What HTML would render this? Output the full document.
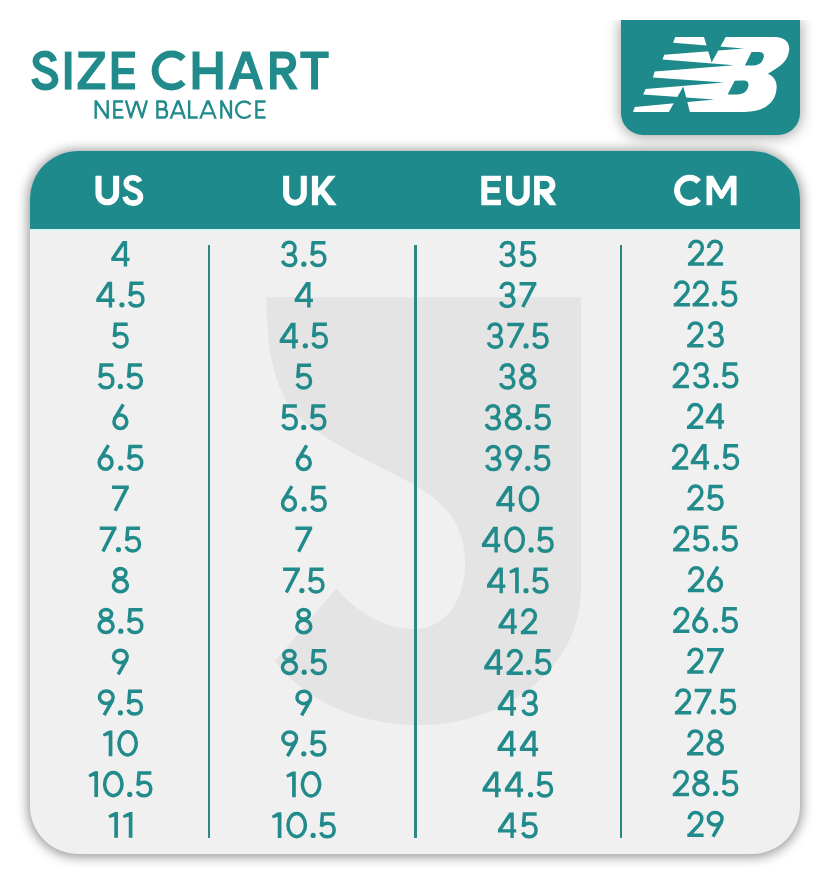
<!DOCTYPE html>
<html><head><meta charset="utf-8">
<style>
html,body{margin:0;padding:0;}
body{width:831px;height:885px;background:#ffffff;position:relative;overflow:hidden;font-family:"Liberation Sans",sans-serif;}
.abs{position:absolute;}
#logo{position:absolute;left:621px;top:20px;width:179px;height:115px;background:#1f8a8b;border-radius:0 0 22px 22px;box-shadow:0 1px 14px 1px rgba(0,0,0,0.36);clip-path:inset(0 -40px -40px -40px);}
#card{position:absolute;left:29.5px;top:151px;width:770.5px;height:702.5px;border-radius:48px;background:#f0f0f0;box-shadow:0 1px 12px 2px rgba(0,0,0,0.42);overflow:hidden;}
#head{position:absolute;left:0;top:0;width:100%;height:77.5px;background:#1f8a8b;}
#hl{position:absolute;left:0;top:77.5px;width:100%;height:2px;background:#dcf3f3;}
.tx{position:absolute;color:transparent;white-space:nowrap;transform-origin:0 0;}
.tc{width:140px;text-align:center;transform-origin:50% 0;}
.v{position:absolute;top:244.5px;width:2.2px;height:593.5px;background:#2b8686;}
</style></head><body>
<svg class="abs" style="left:0;top:0" width="400" height="100" viewBox="0 0 400 100">
<g fill="none" stroke="#218a8b" stroke-linecap="butt">
<path stroke-width="6.7" d="M53.9,61.2 C52.4,56.6 49.2,53.9 44.8,53.9 C39.6,53.9 35.9,57.0 35.9,61.3 C35.9,66.3 40.0,68.3 45.6,70.0 C51.4,71.8 55.1,74.5 55.1,79.6 C55.1,84.2 51.0,87.1 45.4,87.1 C40.2,87.1 36.0,84.6 34.4,78.7"/>
<path stroke-width="6.9" d="M183.27,58.83 A16.5,16.5 0 1 0 183.27,82.17"/>
</g>
<g fill="#218a8b">
<rect x="64.8" y="51.6" width="6.7" height="38.0"/>
<path d="M78.3,51.6 L104.9,51.6 L104.9,57.8 L85.9,83.2 L105.2,83.2 L105.2,89.6 L77.6,89.6 L77.6,83.2 L97.2,57.8 L78.3,57.8 Z"/>
<path d="M111.7,51.6 L135.1,51.6 L135.1,57.8 L118.3,57.8 L118.3,67.9 L133.8,67.9 L133.8,74.2 L118.3,74.2 L118.3,83.2 L135.1,83.2 L135.1,89.6 L111.7,89.6 Z"/>
<path d="M192.6,51.6 L199.5,51.6 L199.5,67.3 L215.8,67.3 L215.8,51.6 L222.7,51.6 L222.7,89.6 L215.8,89.6 L215.8,74.2 L199.5,74.2 L199.5,89.6 L192.6,89.6 Z"/>
<path fill-rule="evenodd" d="M228.2,89.6 L242.3,51.6 L250.1,51.6 L263.2,89.6 L255.8,89.6 L252.5,79.0 L239.4,79.0 L236.1,89.6 Z M245.9,60.3 L251.0,73.2 L240.9,73.2 Z"/>
<path fill-rule="evenodd" d="M270.0,51.6 L284.5,51.6 C291.4,51.6 296.1,56.1 296.1,62.7 C296.1,68.4 292.8,72.6 288.3,73.9 L298.0,89.6 L289.8,89.6 L281.0,74.8 L276.6,74.8 L276.6,89.6 L270.0,89.6 Z M276.6,58.5 L284.2,58.5 C287.5,58.5 289.4,60.4 289.4,63.1 C289.4,65.8 287.5,67.8 284.2,67.8 L276.6,67.8 Z"/>
<path d="M300.3,51.6 L328.7,51.6 L328.7,58.0 L318.0,58.0 L318.0,89.6 L311.1,89.6 L311.1,58.0 L300.3,58.0 Z"/>
</g>
</svg>
<svg class="abs" style="left:0;top:0" width="400" height="130" viewBox="0 0 400 130">
<g fill="none" stroke="#218a8b" stroke-width="2.4" stroke-linecap="butt" stroke-linejoin="miter">
<path d="M95.7,100.3 V118.7 M95.9,101.0 L107.5,118.0 M107.7,100.3 V118.7"/>
<path d="M123.2,101.5 H114.35 V117.5 H123.6 M114.35,109.9 H122.5"/>
<path d="M125.9,100.4 L131.0,118.2 M130.6,118.2 L136.2,101.0 M136.6,101.0 L142.2,118.2 M141.8,118.2 L146.9,100.4"/>
<path d="M157.4,100.3 V118.7 M156.2,101.5 H162.3 C164.8,101.5 166.0,103.1 166.0,105.3 C166.0,107.5 164.6,109.2 162.3,109.2 H157.4 M157.4,109.2 H163.0 C165.7,109.2 167.0,111.1 167.0,113.4 C167.0,115.9 165.5,117.5 163.0,117.5 H156.2"/>
<path d="M189.15,100.3 V118.7 M187.9,117.5 H197.7"/>
<path d="M221.35,100.3 V118.7 M221.55,101.0 L230.75,118.0 M230.95,100.3 V118.7"/>
<path d="M250.58,104.43 A8.2,8.2 0 1 0 250.58,114.97"/>
<path d="M265.6,101.5 H256.4 V117.5 H265.6 M256.4,109.9 H264.2"/>
</g>
<g fill="#218a8b">
<path fill-rule="evenodd" d="M169.5,118.7 L176.7,100.3 L179.6,100.3 L186.1,118.7 L183.5,118.7 L182.1,114.6 L173.6,114.6 L172.1,118.7 Z M178.1,103.8 L174.4,112.2 L181.4,112.2 Z"/>
<path fill-rule="evenodd" d="M199.1,118.7 L206.55,100.3 L209.45,100.3 L216.9,118.7 L214.3,118.7 L212.9,114.6 L203.1,114.6 L201.7,118.7 Z M208.0,103.8 L203.9,112.2 L212.1,112.2 Z"/>
</g>
</svg>
<div id="logo"></div>
<svg class="abs" style="left:0;top:0" width="831" height="150" viewBox="0 0 831 150">
<path fill="#ffffff" d="M633,111.9 L634.8,107 L714.4,99.4 L643.2,94.4 L645.6,89 L724.1,82.4 L652.9,77.5 L654.7,71.5 L734.2,65.3 L662.5,59.5 L664.3,54.7 L744,48.4 L673.1,42.8 L675.3,37 L774.9,37.1 C785,37.1 790,43 789.1,50.3 C788,60 782,66 767.8,73.7 C775,77 777.5,82 776.4,90 C775,102 765,111.9 745,111.9 Z"/>
<path fill="#1f8a8b" d="M704,37 L725.7,37 L711.6,62.5 Z"/>
<path fill="#1f8a8b" d="M683.3,86.6 L689.9,112 L668.8,112 Z"/>
<path fill="#1f8a8b" d="M744.9,65.6 L751.5,51.9 L758,51.9 C763,51.9 764.5,54 763.7,57.5 C762.5,62.5 759,65.6 752,65.6 Z"/>
<path fill="#1f8a8b" d="M727.6,94.5 L734.7,80.8 L742,80.5 C747,80.3 749,82 748.5,85.5 C747.8,90.5 744,94.5 737,94.5 Z"/>
</svg>
<div id="card"><div id="head"></div><div id="hl"></div></div>
<svg class="abs" style="left:0;top:0" width="831" height="885" viewBox="0 0 831 885">
<path fill="#e4e4e4" d="M266.4,297.2 L581,297.2 L581,590 A161,135 0 0 1 420,725 C350,725 300,695 275,661 L336.4,588.3 C356,612 385,629 414,629 C446,629 465,600 465,563 C465,520 440,500 413.8,484.5 C380,466 330,445 300,418 C275,395 266.4,350 266.4,297.2 Z"/>
</svg>
<div class="v" style="left:207.9px"></div>
<div class="v" style="left:414.4px"></div>
<div class="v" style="left:619.7px"></div>
<svg class="abs" style="left:0;top:0" width="831" height="240" viewBox="0 0 831 240">
<g fill="none" stroke="#ffffff" stroke-linecap="butt">
<path stroke-width="6.1" d="M98.5,175.8 L98.5,193.5 A8.8,8.8 0 0 0 116.1,193.5 L116.1,175.8"/>
<path stroke-width="5.6" d="M139.8,181.8 C138.5,179.2 135.8,177.8 132.8,177.8 C128.9,177.8 126.2,180.2 126.2,183.3 C126.2,186.8 129.0,188.3 133.0,189.6 C137.4,191.0 140.5,192.9 140.5,197.0 C140.5,200.8 137.3,203.1 133.0,203.1 C129.2,203.1 126.1,201.3 125.0,196.7"/>
<path stroke-width="6.1" d="M286.1,175.8 L286.1,193.85 A8.85,8.85 0 0 0 303.8,193.85 L303.8,175.8"/>
<path stroke-width="6.1" d="M509.1,175.7 L509.1,193.8 A8.8,8.8 0 0 0 526.7,193.8 L526.7,175.7"/>
<path stroke-width="6.0" d="M698.73,181.79 A12.55,12.55 0 1 0 698.73,198.91"/>
</g>
<g fill="#ffffff">
<path d="M311.9,175.8 L318.1,175.8 L318.1,188.6 L328.0,175.8 L335.8,175.8 L324.6,189.5 L336.8,205.2 L328.8,205.2 L320.4,193.9 L318.1,196.6 L318.1,205.2 L311.9,205.2 Z"/>
<path d="M481.3,175.8 L500.9,175.8 L500.9,181.1 L487.3,181.1 L487.3,187.2 L499.5,187.2 L499.5,192.9 L487.3,192.9 L487.3,199.7 L500.9,199.7 L500.9,205.2 L481.3,205.2 Z"/>
<path fill-rule="evenodd" d="M534.1,175.8 L545.8,175.8 C551.5,175.8 555.4,179.7 555.4,185.0 C555.4,189.3 552.8,192.6 549.2,193.6 L556.5,205.2 L549.7,205.2 L540.8,194.5 L539.8,194.5 L539.8,205.2 L534.1,205.2 Z M539.8,181.0 L545.4,181.0 C548.0,181.0 549.6,182.7 549.6,185.0 C549.6,187.3 548.0,189.0 545.4,189.0 L539.8,189.0 Z"/>
<path d="M706.5,205.3 L706.5,175.8 L713.0,175.8 L721.5,190.8 L730.0,175.8 L736.5,175.8 L736.5,205.3 L730.8,205.3 L730.8,186.2 L722.8,198.7 L720.2,198.7 L712.2,186.2 L712.2,205.3 Z"/>
</g>
</svg>
<svg class="abs" style="left:0;top:0" width="831" height="885" viewBox="0 0 831 885"><g fill="none" stroke="#218a8b" stroke-width="3.5" stroke-linecap="butt"><g transform="translate(111.25,240.90)"><path stroke="none" fill="#218a8b" fill-rule="evenodd" d="M11.4,0 L15.9,0 L15.9,16.9 L18.3,16.9 L18.3,20.2 L15.9,20.2 L15.9,25.7 L12.5,25.7 L12.5,20.2 L0,20.2 L0,17.0 Z M12.5,4.9 L12.5,16.9 L4.4,16.9 Z"/></g>
<g transform="translate(96.25,281.70)"><path stroke="none" fill="#218a8b" fill-rule="evenodd" d="M11.4,0 L15.9,0 L15.9,16.9 L18.3,16.9 L18.3,20.2 L15.9,20.2 L15.9,25.7 L12.5,25.7 L12.5,20.2 L0,20.2 L0,17.0 Z M12.5,4.9 L12.5,16.9 L4.4,16.9 Z"/></g>
<g transform="translate(119.45,281.70)"><circle stroke="none" fill="#218a8b" cx="2.5" cy="23.1" r="2.6"/></g>
<g transform="translate(127.95,281.70)"><path d="M15.6,1.65 L3.3,1.65 L2.3,14.4" stroke-linejoin="miter"/><path d="M2.0,13.8 C3.7,11.9 6.0,10.9 8.6,10.9 C12.5,10.9 15.0,14.0 15.0,17.9 C15.0,21.8 12.2,24.4 8.4,24.4 C5.3,24.4 2.6,22.8 1.6,20.0"/></g>
<g transform="translate(112.10,322.50)"><path d="M15.6,1.65 L3.3,1.65 L2.3,14.4" stroke-linejoin="miter"/><path d="M2.0,13.8 C3.7,11.9 6.0,10.9 8.6,10.9 C12.5,10.9 15.0,14.0 15.0,17.9 C15.0,21.8 12.2,24.4 8.4,24.4 C5.3,24.4 2.6,22.8 1.6,20.0"/></g>
<g transform="translate(97.85,363.30)"><path d="M15.6,1.65 L3.3,1.65 L2.3,14.4" stroke-linejoin="miter"/><path d="M2.0,13.8 C3.7,11.9 6.0,10.9 8.6,10.9 C12.5,10.9 15.0,14.0 15.0,17.9 C15.0,21.8 12.2,24.4 8.4,24.4 C5.3,24.4 2.6,22.8 1.6,20.0"/></g>
<g transform="translate(117.85,363.30)"><circle stroke="none" fill="#218a8b" cx="2.5" cy="23.1" r="2.6"/></g>
<g transform="translate(126.35,363.30)"><path d="M15.6,1.65 L3.3,1.65 L2.3,14.4" stroke-linejoin="miter"/><path d="M2.0,13.8 C3.7,11.9 6.0,10.9 8.6,10.9 C12.5,10.9 15.0,14.0 15.0,17.9 C15.0,21.8 12.2,24.4 8.4,24.4 C5.3,24.4 2.6,22.8 1.6,20.0"/></g>
<g transform="translate(112.30,404.10)"><path d="M11.0,0.3 L2.0,15.2"/><ellipse cx="8.1" cy="17.6" rx="6.45" ry="6.75"/></g>
<g transform="translate(97.50,444.90)"><path d="M11.0,0.3 L2.0,15.2"/><ellipse cx="8.1" cy="17.6" rx="6.45" ry="6.75"/></g>
<g transform="translate(118.20,444.90)"><circle stroke="none" fill="#218a8b" cx="2.5" cy="23.1" r="2.6"/></g>
<g transform="translate(126.70,444.90)"><path d="M15.6,1.65 L3.3,1.65 L2.3,14.4" stroke-linejoin="miter"/><path d="M2.0,13.8 C3.7,11.9 6.0,10.9 8.6,10.9 C12.5,10.9 15.0,14.0 15.0,17.9 C15.0,21.8 12.2,24.4 8.4,24.4 C5.3,24.4 2.6,22.8 1.6,20.0"/></g>
<g transform="translate(112.00,485.70)"><path d="M0,1.65 L16.8,1.65 M15.1,1.65 L3.2,25.0"/></g>
<g transform="translate(99.70,526.50)"><path d="M0,1.65 L16.8,1.65 M15.1,1.65 L3.2,25.0"/></g>
<g transform="translate(116.00,526.50)"><circle stroke="none" fill="#218a8b" cx="2.5" cy="23.1" r="2.6"/></g>
<g transform="translate(124.50,526.50)"><path d="M15.6,1.65 L3.3,1.65 L2.3,14.4" stroke-linejoin="miter"/><path d="M2.0,13.8 C3.7,11.9 6.0,10.9 8.6,10.9 C12.5,10.9 15.0,14.0 15.0,17.9 C15.0,21.8 12.2,24.4 8.4,24.4 C5.3,24.4 2.6,22.8 1.6,20.0"/></g>
<g transform="translate(111.75,567.30)"><ellipse cx="8.6" cy="5.95" rx="5.6" ry="4.65"/><ellipse cx="8.65" cy="18.2" rx="7.0" ry="6.2"/></g>
<g transform="translate(97.40,608.10)"><ellipse cx="8.6" cy="5.95" rx="5.6" ry="4.65"/><ellipse cx="8.65" cy="18.2" rx="7.0" ry="6.2"/></g>
<g transform="translate(118.30,608.10)"><circle stroke="none" fill="#218a8b" cx="2.5" cy="23.1" r="2.6"/></g>
<g transform="translate(126.80,608.10)"><path d="M15.6,1.65 L3.3,1.65 L2.3,14.4" stroke-linejoin="miter"/><path d="M2.0,13.8 C3.7,11.9 6.0,10.9 8.6,10.9 C12.5,10.9 15.0,14.0 15.0,17.9 C15.0,21.8 12.2,24.4 8.4,24.4 C5.3,24.4 2.6,22.8 1.6,20.0"/></g>
<g transform="translate(111.90,648.90)"><ellipse cx="8.5" cy="7.5" rx="6.85" ry="6.25"/><path d="M14.9,10.4 L6.3,25.4"/></g>
<g transform="translate(97.80,689.70)"><ellipse cx="8.5" cy="7.5" rx="6.85" ry="6.25"/><path d="M14.9,10.4 L6.3,25.4"/></g>
<g transform="translate(117.90,689.70)"><circle stroke="none" fill="#218a8b" cx="2.5" cy="23.1" r="2.6"/></g>
<g transform="translate(126.40,689.70)"><path d="M15.6,1.65 L3.3,1.65 L2.3,14.4" stroke-linejoin="miter"/><path d="M2.0,13.8 C3.7,11.9 6.0,10.9 8.6,10.9 C12.5,10.9 15.0,14.0 15.0,17.9 C15.0,21.8 12.2,24.4 8.4,24.4 C5.3,24.4 2.6,22.8 1.6,20.0"/></g>
<g transform="translate(102.80,730.50)"><path stroke="none" fill="#218a8b" d="M5.9,0H9.6V25.7H5.9Z M0,3.4L6.0,0L6.0,4.4L1.0,5.9Z"/></g>
<g transform="translate(117.30,730.50)"><ellipse cx="10.35" cy="12.85" rx="8.7" ry="11.55"/></g>
<g transform="translate(88.45,771.30)"><path stroke="none" fill="#218a8b" d="M5.9,0H9.6V25.7H5.9Z M0,3.4L6.0,0L6.0,4.4L1.0,5.9Z"/></g>
<g transform="translate(102.95,771.30)"><ellipse cx="10.35" cy="12.85" rx="8.7" ry="11.55"/></g>
<g transform="translate(127.25,771.30)"><circle stroke="none" fill="#218a8b" cx="2.5" cy="23.1" r="2.6"/></g>
<g transform="translate(135.75,771.30)"><path d="M15.6,1.65 L3.3,1.65 L2.3,14.4" stroke-linejoin="miter"/><path d="M2.0,13.8 C3.7,11.9 6.0,10.9 8.6,10.9 C12.5,10.9 15.0,14.0 15.0,17.9 C15.0,21.8 12.2,24.4 8.4,24.4 C5.3,24.4 2.6,22.8 1.6,20.0"/></g>
<g transform="translate(108.35,812.10)"><path stroke="none" fill="#218a8b" d="M5.9,0H9.6V25.7H5.9Z M0,3.4L6.0,0L6.0,4.4L1.0,5.9Z"/></g>
<g transform="translate(122.85,812.10)"><path stroke="none" fill="#218a8b" d="M5.9,0H9.6V25.7H5.9Z M0,3.4L6.0,0L6.0,4.4L1.0,5.9Z"/></g>
<g transform="translate(281.15,241.10)"><path d="M1.8,7.0 C2.5,3.5 5.0,1.25 8.2,1.25 C11.6,1.25 13.9,3.6 13.9,6.9 C13.9,10.6 11.4,13.2 8.0,13.2 L5.6,13.2 L8.3,13.2 C12.0,13.2 14.65,15.7 14.65,19.1 C14.65,22.3 11.9,24.4 8.2,24.4 C4.9,24.4 2.2,22.6 1.5,19.6"/></g>
<g transform="translate(301.35,241.10)"><circle stroke="none" fill="#218a8b" cx="2.5" cy="23.1" r="2.6"/></g>
<g transform="translate(309.85,241.10)"><path d="M15.6,1.65 L3.3,1.65 L2.3,14.4" stroke-linejoin="miter"/><path d="M2.0,13.8 C3.7,11.9 6.0,10.9 8.6,10.9 C12.5,10.9 15.0,14.0 15.0,17.9 C15.0,21.8 12.2,24.4 8.4,24.4 C5.3,24.4 2.6,22.8 1.6,20.0"/></g>
<g transform="translate(294.65,281.90)"><path stroke="none" fill="#218a8b" fill-rule="evenodd" d="M11.4,0 L15.9,0 L15.9,16.9 L18.3,16.9 L18.3,20.2 L15.9,20.2 L15.9,25.7 L12.5,25.7 L12.5,20.2 L0,20.2 L0,17.0 Z M12.5,4.9 L12.5,16.9 L4.4,16.9 Z"/></g>
<g transform="translate(279.65,322.70)"><path stroke="none" fill="#218a8b" fill-rule="evenodd" d="M11.4,0 L15.9,0 L15.9,16.9 L18.3,16.9 L18.3,20.2 L15.9,20.2 L15.9,25.7 L12.5,25.7 L12.5,20.2 L0,20.2 L0,17.0 Z M12.5,4.9 L12.5,16.9 L4.4,16.9 Z"/></g>
<g transform="translate(302.85,322.70)"><circle stroke="none" fill="#218a8b" cx="2.5" cy="23.1" r="2.6"/></g>
<g transform="translate(311.35,322.70)"><path d="M15.6,1.65 L3.3,1.65 L2.3,14.4" stroke-linejoin="miter"/><path d="M2.0,13.8 C3.7,11.9 6.0,10.9 8.6,10.9 C12.5,10.9 15.0,14.0 15.0,17.9 C15.0,21.8 12.2,24.4 8.4,24.4 C5.3,24.4 2.6,22.8 1.6,20.0"/></g>
<g transform="translate(295.50,363.50)"><path d="M15.6,1.65 L3.3,1.65 L2.3,14.4" stroke-linejoin="miter"/><path d="M2.0,13.8 C3.7,11.9 6.0,10.9 8.6,10.9 C12.5,10.9 15.0,14.0 15.0,17.9 C15.0,21.8 12.2,24.4 8.4,24.4 C5.3,24.4 2.6,22.8 1.6,20.0"/></g>
<g transform="translate(281.25,404.30)"><path d="M15.6,1.65 L3.3,1.65 L2.3,14.4" stroke-linejoin="miter"/><path d="M2.0,13.8 C3.7,11.9 6.0,10.9 8.6,10.9 C12.5,10.9 15.0,14.0 15.0,17.9 C15.0,21.8 12.2,24.4 8.4,24.4 C5.3,24.4 2.6,22.8 1.6,20.0"/></g>
<g transform="translate(301.25,404.30)"><circle stroke="none" fill="#218a8b" cx="2.5" cy="23.1" r="2.6"/></g>
<g transform="translate(309.75,404.30)"><path d="M15.6,1.65 L3.3,1.65 L2.3,14.4" stroke-linejoin="miter"/><path d="M2.0,13.8 C3.7,11.9 6.0,10.9 8.6,10.9 C12.5,10.9 15.0,14.0 15.0,17.9 C15.0,21.8 12.2,24.4 8.4,24.4 C5.3,24.4 2.6,22.8 1.6,20.0"/></g>
<g transform="translate(295.70,445.10)"><path d="M11.0,0.3 L2.0,15.2"/><ellipse cx="8.1" cy="17.6" rx="6.45" ry="6.75"/></g>
<g transform="translate(280.90,485.90)"><path d="M11.0,0.3 L2.0,15.2"/><ellipse cx="8.1" cy="17.6" rx="6.45" ry="6.75"/></g>
<g transform="translate(301.60,485.90)"><circle stroke="none" fill="#218a8b" cx="2.5" cy="23.1" r="2.6"/></g>
<g transform="translate(310.10,485.90)"><path d="M15.6,1.65 L3.3,1.65 L2.3,14.4" stroke-linejoin="miter"/><path d="M2.0,13.8 C3.7,11.9 6.0,10.9 8.6,10.9 C12.5,10.9 15.0,14.0 15.0,17.9 C15.0,21.8 12.2,24.4 8.4,24.4 C5.3,24.4 2.6,22.8 1.6,20.0"/></g>
<g transform="translate(295.40,526.70)"><path d="M0,1.65 L16.8,1.65 M15.1,1.65 L3.2,25.0"/></g>
<g transform="translate(283.10,567.50)"><path d="M0,1.65 L16.8,1.65 M15.1,1.65 L3.2,25.0"/></g>
<g transform="translate(299.40,567.50)"><circle stroke="none" fill="#218a8b" cx="2.5" cy="23.1" r="2.6"/></g>
<g transform="translate(307.90,567.50)"><path d="M15.6,1.65 L3.3,1.65 L2.3,14.4" stroke-linejoin="miter"/><path d="M2.0,13.8 C3.7,11.9 6.0,10.9 8.6,10.9 C12.5,10.9 15.0,14.0 15.0,17.9 C15.0,21.8 12.2,24.4 8.4,24.4 C5.3,24.4 2.6,22.8 1.6,20.0"/></g>
<g transform="translate(295.15,608.30)"><ellipse cx="8.6" cy="5.95" rx="5.6" ry="4.65"/><ellipse cx="8.65" cy="18.2" rx="7.0" ry="6.2"/></g>
<g transform="translate(280.80,649.10)"><ellipse cx="8.6" cy="5.95" rx="5.6" ry="4.65"/><ellipse cx="8.65" cy="18.2" rx="7.0" ry="6.2"/></g>
<g transform="translate(301.70,649.10)"><circle stroke="none" fill="#218a8b" cx="2.5" cy="23.1" r="2.6"/></g>
<g transform="translate(310.20,649.10)"><path d="M15.6,1.65 L3.3,1.65 L2.3,14.4" stroke-linejoin="miter"/><path d="M2.0,13.8 C3.7,11.9 6.0,10.9 8.6,10.9 C12.5,10.9 15.0,14.0 15.0,17.9 C15.0,21.8 12.2,24.4 8.4,24.4 C5.3,24.4 2.6,22.8 1.6,20.0"/></g>
<g transform="translate(295.30,689.90)"><ellipse cx="8.5" cy="7.5" rx="6.85" ry="6.25"/><path d="M14.9,10.4 L6.3,25.4"/></g>
<g transform="translate(281.20,730.70)"><ellipse cx="8.5" cy="7.5" rx="6.85" ry="6.25"/><path d="M14.9,10.4 L6.3,25.4"/></g>
<g transform="translate(301.30,730.70)"><circle stroke="none" fill="#218a8b" cx="2.5" cy="23.1" r="2.6"/></g>
<g transform="translate(309.80,730.70)"><path d="M15.6,1.65 L3.3,1.65 L2.3,14.4" stroke-linejoin="miter"/><path d="M2.0,13.8 C3.7,11.9 6.0,10.9 8.6,10.9 C12.5,10.9 15.0,14.0 15.0,17.9 C15.0,21.8 12.2,24.4 8.4,24.4 C5.3,24.4 2.6,22.8 1.6,20.0"/></g>
<g transform="translate(286.20,771.50)"><path stroke="none" fill="#218a8b" d="M5.9,0H9.6V25.7H5.9Z M0,3.4L6.0,0L6.0,4.4L1.0,5.9Z"/></g>
<g transform="translate(300.70,771.50)"><ellipse cx="10.35" cy="12.85" rx="8.7" ry="11.55"/></g>
<g transform="translate(271.85,812.30)"><path stroke="none" fill="#218a8b" d="M5.9,0H9.6V25.7H5.9Z M0,3.4L6.0,0L6.0,4.4L1.0,5.9Z"/></g>
<g transform="translate(286.35,812.30)"><ellipse cx="10.35" cy="12.85" rx="8.7" ry="11.55"/></g>
<g transform="translate(310.65,812.30)"><circle stroke="none" fill="#218a8b" cx="2.5" cy="23.1" r="2.6"/></g>
<g transform="translate(319.15,812.30)"><path d="M15.6,1.65 L3.3,1.65 L2.3,14.4" stroke-linejoin="miter"/><path d="M2.0,13.8 C3.7,11.9 6.0,10.9 8.6,10.9 C12.5,10.9 15.0,14.0 15.0,17.9 C15.0,21.8 12.2,24.4 8.4,24.4 C5.3,24.4 2.6,22.8 1.6,20.0"/></g>
<g transform="translate(499.35,241.20)"><path d="M1.8,7.0 C2.5,3.5 5.0,1.25 8.2,1.25 C11.6,1.25 13.9,3.6 13.9,6.9 C13.9,10.6 11.4,13.2 8.0,13.2 L5.6,13.2 L8.3,13.2 C12.0,13.2 14.65,15.7 14.65,19.1 C14.65,22.3 11.9,24.4 8.2,24.4 C4.9,24.4 2.2,22.6 1.5,19.6"/></g>
<g transform="translate(519.65,241.20)"><path d="M15.6,1.65 L3.3,1.65 L2.3,14.4" stroke-linejoin="miter"/><path d="M2.0,13.8 C3.7,11.9 6.0,10.9 8.6,10.9 C12.5,10.9 15.0,14.0 15.0,17.9 C15.0,21.8 12.2,24.4 8.4,24.4 C5.3,24.4 2.6,22.8 1.6,20.0"/></g>
<g transform="translate(499.25,282.00)"><path d="M1.8,7.0 C2.5,3.5 5.0,1.25 8.2,1.25 C11.6,1.25 13.9,3.6 13.9,6.9 C13.9,10.6 11.4,13.2 8.0,13.2 L5.6,13.2 L8.3,13.2 C12.0,13.2 14.65,15.7 14.65,19.1 C14.65,22.3 11.9,24.4 8.2,24.4 C4.9,24.4 2.2,22.6 1.5,19.6"/></g>
<g transform="translate(519.55,282.00)"><path d="M0,1.65 L16.8,1.65 M15.1,1.65 L3.2,25.0"/></g>
<g transform="translate(486.95,322.80)"><path d="M1.8,7.0 C2.5,3.5 5.0,1.25 8.2,1.25 C11.6,1.25 13.9,3.6 13.9,6.9 C13.9,10.6 11.4,13.2 8.0,13.2 L5.6,13.2 L8.3,13.2 C12.0,13.2 14.65,15.7 14.65,19.1 C14.65,22.3 11.9,24.4 8.2,24.4 C4.9,24.4 2.2,22.6 1.5,19.6"/></g>
<g transform="translate(507.25,322.80)"><path d="M0,1.65 L16.8,1.65 M15.1,1.65 L3.2,25.0"/></g>
<g transform="translate(523.55,322.80)"><circle stroke="none" fill="#218a8b" cx="2.5" cy="23.1" r="2.6"/></g>
<g transform="translate(532.05,322.80)"><path d="M15.6,1.65 L3.3,1.65 L2.3,14.4" stroke-linejoin="miter"/><path d="M2.0,13.8 C3.7,11.9 6.0,10.9 8.6,10.9 C12.5,10.9 15.0,14.0 15.0,17.9 C15.0,21.8 12.2,24.4 8.4,24.4 C5.3,24.4 2.6,22.8 1.6,20.0"/></g>
<g transform="translate(499.15,363.60)"><path d="M1.8,7.0 C2.5,3.5 5.0,1.25 8.2,1.25 C11.6,1.25 13.9,3.6 13.9,6.9 C13.9,10.6 11.4,13.2 8.0,13.2 L5.6,13.2 L8.3,13.2 C12.0,13.2 14.65,15.7 14.65,19.1 C14.65,22.3 11.9,24.4 8.2,24.4 C4.9,24.4 2.2,22.6 1.5,19.6"/></g>
<g transform="translate(519.15,363.60)"><ellipse cx="8.6" cy="5.95" rx="5.6" ry="4.65"/><ellipse cx="8.65" cy="18.2" rx="7.0" ry="6.2"/></g>
<g transform="translate(484.80,404.40)"><path d="M1.8,7.0 C2.5,3.5 5.0,1.25 8.2,1.25 C11.6,1.25 13.9,3.6 13.9,6.9 C13.9,10.6 11.4,13.2 8.0,13.2 L5.6,13.2 L8.3,13.2 C12.0,13.2 14.65,15.7 14.65,19.1 C14.65,22.3 11.9,24.4 8.2,24.4 C4.9,24.4 2.2,22.6 1.5,19.6"/></g>
<g transform="translate(504.80,404.40)"><ellipse cx="8.6" cy="5.95" rx="5.6" ry="4.65"/><ellipse cx="8.65" cy="18.2" rx="7.0" ry="6.2"/></g>
<g transform="translate(525.70,404.40)"><circle stroke="none" fill="#218a8b" cx="2.5" cy="23.1" r="2.6"/></g>
<g transform="translate(534.20,404.40)"><path d="M15.6,1.65 L3.3,1.65 L2.3,14.4" stroke-linejoin="miter"/><path d="M2.0,13.8 C3.7,11.9 6.0,10.9 8.6,10.9 C12.5,10.9 15.0,14.0 15.0,17.9 C15.0,21.8 12.2,24.4 8.4,24.4 C5.3,24.4 2.6,22.8 1.6,20.0"/></g>
<g transform="translate(485.25,445.20)"><path d="M1.8,7.0 C2.5,3.5 5.0,1.25 8.2,1.25 C11.6,1.25 13.9,3.6 13.9,6.9 C13.9,10.6 11.4,13.2 8.0,13.2 L5.6,13.2 L8.3,13.2 C12.0,13.2 14.65,15.7 14.65,19.1 C14.65,22.3 11.9,24.4 8.2,24.4 C4.9,24.4 2.2,22.6 1.5,19.6"/></g>
<g transform="translate(505.15,445.20)"><ellipse cx="8.5" cy="7.5" rx="6.85" ry="6.25"/><path d="M14.9,10.4 L6.3,25.4"/></g>
<g transform="translate(525.25,445.20)"><circle stroke="none" fill="#218a8b" cx="2.5" cy="23.1" r="2.6"/></g>
<g transform="translate(533.75,445.20)"><path d="M15.6,1.65 L3.3,1.65 L2.3,14.4" stroke-linejoin="miter"/><path d="M2.0,13.8 C3.7,11.9 6.0,10.9 8.6,10.9 C12.5,10.9 15.0,14.0 15.0,17.9 C15.0,21.8 12.2,24.4 8.4,24.4 C5.3,24.4 2.6,22.8 1.6,20.0"/></g>
<g transform="translate(496.25,486.00)"><path stroke="none" fill="#218a8b" fill-rule="evenodd" d="M11.4,0 L15.9,0 L15.9,16.9 L18.3,16.9 L18.3,20.2 L15.9,20.2 L15.9,25.7 L12.5,25.7 L12.5,20.2 L0,20.2 L0,17.0 Z M12.5,4.9 L12.5,16.9 L4.4,16.9 Z"/></g>
<g transform="translate(518.65,486.00)"><ellipse cx="10.35" cy="12.85" rx="8.7" ry="11.55"/></g>
<g transform="translate(481.90,526.80)"><path stroke="none" fill="#218a8b" fill-rule="evenodd" d="M11.4,0 L15.9,0 L15.9,16.9 L18.3,16.9 L18.3,20.2 L15.9,20.2 L15.9,25.7 L12.5,25.7 L12.5,20.2 L0,20.2 L0,17.0 Z M12.5,4.9 L12.5,16.9 L4.4,16.9 Z"/></g>
<g transform="translate(504.30,526.80)"><ellipse cx="10.35" cy="12.85" rx="8.7" ry="11.55"/></g>
<g transform="translate(528.60,526.80)"><circle stroke="none" fill="#218a8b" cx="2.5" cy="23.1" r="2.6"/></g>
<g transform="translate(537.10,526.80)"><path d="M15.6,1.65 L3.3,1.65 L2.3,14.4" stroke-linejoin="miter"/><path d="M2.0,13.8 C3.7,11.9 6.0,10.9 8.6,10.9 C12.5,10.9 15.0,14.0 15.0,17.9 C15.0,21.8 12.2,24.4 8.4,24.4 C5.3,24.4 2.6,22.8 1.6,20.0"/></g>
<g transform="translate(487.00,567.60)"><path stroke="none" fill="#218a8b" fill-rule="evenodd" d="M11.4,0 L15.9,0 L15.9,16.9 L18.3,16.9 L18.3,20.2 L15.9,20.2 L15.9,25.7 L12.5,25.7 L12.5,20.2 L0,20.2 L0,17.0 Z M12.5,4.9 L12.5,16.9 L4.4,16.9 Z"/></g>
<g transform="translate(509.20,567.60)"><path stroke="none" fill="#218a8b" d="M5.9,0H9.6V25.7H5.9Z M0,3.4L6.0,0L6.0,4.4L1.0,5.9Z"/></g>
<g transform="translate(523.50,567.60)"><circle stroke="none" fill="#218a8b" cx="2.5" cy="23.1" r="2.6"/></g>
<g transform="translate(532.00,567.60)"><path d="M15.6,1.65 L3.3,1.65 L2.3,14.4" stroke-linejoin="miter"/><path d="M2.0,13.8 C3.7,11.9 6.0,10.9 8.6,10.9 C12.5,10.9 15.0,14.0 15.0,17.9 C15.0,21.8 12.2,24.4 8.4,24.4 C5.3,24.4 2.6,22.8 1.6,20.0"/></g>
<g transform="translate(498.45,608.40)"><path stroke="none" fill="#218a8b" fill-rule="evenodd" d="M11.4,0 L15.9,0 L15.9,16.9 L18.3,16.9 L18.3,20.2 L15.9,20.2 L15.9,25.7 L12.5,25.7 L12.5,20.2 L0,20.2 L0,17.0 Z M12.5,4.9 L12.5,16.9 L4.4,16.9 Z"/></g>
<g transform="translate(520.85,608.40)"><path d="M1.9,8.0 C1.9,4.2 4.7,1.3 8.2,1.3 C11.8,1.3 14.5,4.0 14.5,7.6 C14.5,10.0 13.4,11.9 11.7,13.7 L1.9,24.05 M0,24.05 L16.3,24.05"/></g>
<g transform="translate(484.20,649.20)"><path stroke="none" fill="#218a8b" fill-rule="evenodd" d="M11.4,0 L15.9,0 L15.9,16.9 L18.3,16.9 L18.3,20.2 L15.9,20.2 L15.9,25.7 L12.5,25.7 L12.5,20.2 L0,20.2 L0,17.0 Z M12.5,4.9 L12.5,16.9 L4.4,16.9 Z"/></g>
<g transform="translate(506.60,649.20)"><path d="M1.9,8.0 C1.9,4.2 4.7,1.3 8.2,1.3 C11.8,1.3 14.5,4.0 14.5,7.6 C14.5,10.0 13.4,11.9 11.7,13.7 L1.9,24.05 M0,24.05 L16.3,24.05"/></g>
<g transform="translate(526.30,649.20)"><circle stroke="none" fill="#218a8b" cx="2.5" cy="23.1" r="2.6"/></g>
<g transform="translate(534.80,649.20)"><path d="M15.6,1.65 L3.3,1.65 L2.3,14.4" stroke-linejoin="miter"/><path d="M2.0,13.8 C3.7,11.9 6.0,10.9 8.6,10.9 C12.5,10.9 15.0,14.0 15.0,17.9 C15.0,21.8 12.2,24.4 8.4,24.4 C5.3,24.4 2.6,22.8 1.6,20.0"/></g>
<g transform="translate(497.70,690.00)"><path stroke="none" fill="#218a8b" fill-rule="evenodd" d="M11.4,0 L15.9,0 L15.9,16.9 L18.3,16.9 L18.3,20.2 L15.9,20.2 L15.9,25.7 L12.5,25.7 L12.5,20.2 L0,20.2 L0,17.0 Z M12.5,4.9 L12.5,16.9 L4.4,16.9 Z"/></g>
<g transform="translate(521.60,690.00)"><path d="M1.8,7.0 C2.5,3.5 5.0,1.25 8.2,1.25 C11.6,1.25 13.9,3.6 13.9,6.9 C13.9,10.6 11.4,13.2 8.0,13.2 L5.6,13.2 L8.3,13.2 C12.0,13.2 14.65,15.7 14.65,19.1 C14.65,22.3 11.9,24.4 8.2,24.4 C4.9,24.4 2.2,22.6 1.5,19.6"/></g>
<g transform="translate(497.50,730.80)"><path stroke="none" fill="#218a8b" fill-rule="evenodd" d="M11.4,0 L15.9,0 L15.9,16.9 L18.3,16.9 L18.3,20.2 L15.9,20.2 L15.9,25.7 L12.5,25.7 L12.5,20.2 L0,20.2 L0,17.0 Z M12.5,4.9 L12.5,16.9 L4.4,16.9 Z"/></g>
<g transform="translate(519.80,730.80)"><path stroke="none" fill="#218a8b" fill-rule="evenodd" d="M11.4,0 L15.9,0 L15.9,16.9 L18.3,16.9 L18.3,20.2 L15.9,20.2 L15.9,25.7 L12.5,25.7 L12.5,20.2 L0,20.2 L0,17.0 Z M12.5,4.9 L12.5,16.9 L4.4,16.9 Z"/></g>
<g transform="translate(482.50,771.60)"><path stroke="none" fill="#218a8b" fill-rule="evenodd" d="M11.4,0 L15.9,0 L15.9,16.9 L18.3,16.9 L18.3,20.2 L15.9,20.2 L15.9,25.7 L12.5,25.7 L12.5,20.2 L0,20.2 L0,17.0 Z M12.5,4.9 L12.5,16.9 L4.4,16.9 Z"/></g>
<g transform="translate(504.80,771.60)"><path stroke="none" fill="#218a8b" fill-rule="evenodd" d="M11.4,0 L15.9,0 L15.9,16.9 L18.3,16.9 L18.3,20.2 L15.9,20.2 L15.9,25.7 L12.5,25.7 L12.5,20.2 L0,20.2 L0,17.0 Z M12.5,4.9 L12.5,16.9 L4.4,16.9 Z"/></g>
<g transform="translate(528.00,771.60)"><circle stroke="none" fill="#218a8b" cx="2.5" cy="23.1" r="2.6"/></g>
<g transform="translate(536.50,771.60)"><path d="M15.6,1.65 L3.3,1.65 L2.3,14.4" stroke-linejoin="miter"/><path d="M2.0,13.8 C3.7,11.9 6.0,10.9 8.6,10.9 C12.5,10.9 15.0,14.0 15.0,17.9 C15.0,21.8 12.2,24.4 8.4,24.4 C5.3,24.4 2.6,22.8 1.6,20.0"/></g>
<g transform="translate(497.90,812.40)"><path stroke="none" fill="#218a8b" fill-rule="evenodd" d="M11.4,0 L15.9,0 L15.9,16.9 L18.3,16.9 L18.3,20.2 L15.9,20.2 L15.9,25.7 L12.5,25.7 L12.5,20.2 L0,20.2 L0,17.0 Z M12.5,4.9 L12.5,16.9 L4.4,16.9 Z"/></g>
<g transform="translate(521.10,812.40)"><path d="M15.6,1.65 L3.3,1.65 L2.3,14.4" stroke-linejoin="miter"/><path d="M2.0,13.8 C3.7,11.9 6.0,10.9 8.6,10.9 C12.5,10.9 15.0,14.0 15.0,17.9 C15.0,21.8 12.2,24.4 8.4,24.4 C5.3,24.4 2.6,22.8 1.6,20.0"/></g>
<g transform="translate(687.90,240.00)"><path d="M1.9,8.0 C1.9,4.2 4.7,1.3 8.2,1.3 C11.8,1.3 14.5,4.0 14.5,7.6 C14.5,10.0 13.4,11.9 11.7,13.7 L1.9,24.05 M0,24.05 L16.3,24.05"/></g>
<g transform="translate(706.80,240.00)"><path d="M1.9,8.0 C1.9,4.2 4.7,1.3 8.2,1.3 C11.8,1.3 14.5,4.0 14.5,7.6 C14.5,10.0 13.4,11.9 11.7,13.7 L1.9,24.05 M0,24.05 L16.3,24.05"/></g>
<g transform="translate(673.65,280.80)"><path d="M1.9,8.0 C1.9,4.2 4.7,1.3 8.2,1.3 C11.8,1.3 14.5,4.0 14.5,7.6 C14.5,10.0 13.4,11.9 11.7,13.7 L1.9,24.05 M0,24.05 L16.3,24.05"/></g>
<g transform="translate(692.55,280.80)"><path d="M1.9,8.0 C1.9,4.2 4.7,1.3 8.2,1.3 C11.8,1.3 14.5,4.0 14.5,7.6 C14.5,10.0 13.4,11.9 11.7,13.7 L1.9,24.05 M0,24.05 L16.3,24.05"/></g>
<g transform="translate(712.25,280.80)"><circle stroke="none" fill="#218a8b" cx="2.5" cy="23.1" r="2.6"/></g>
<g transform="translate(720.75,280.80)"><path d="M15.6,1.65 L3.3,1.65 L2.3,14.4" stroke-linejoin="miter"/><path d="M2.0,13.8 C3.7,11.9 6.0,10.9 8.6,10.9 C12.5,10.9 15.0,14.0 15.0,17.9 C15.0,21.8 12.2,24.4 8.4,24.4 C5.3,24.4 2.6,22.8 1.6,20.0"/></g>
<g transform="translate(687.15,321.60)"><path d="M1.9,8.0 C1.9,4.2 4.7,1.3 8.2,1.3 C11.8,1.3 14.5,4.0 14.5,7.6 C14.5,10.0 13.4,11.9 11.7,13.7 L1.9,24.05 M0,24.05 L16.3,24.05"/></g>
<g transform="translate(707.55,321.60)"><path d="M1.8,7.0 C2.5,3.5 5.0,1.25 8.2,1.25 C11.6,1.25 13.9,3.6 13.9,6.9 C13.9,10.6 11.4,13.2 8.0,13.2 L5.6,13.2 L8.3,13.2 C12.0,13.2 14.65,15.7 14.65,19.1 C14.65,22.3 11.9,24.4 8.2,24.4 C4.9,24.4 2.2,22.6 1.5,19.6"/></g>
<g transform="translate(672.65,362.40)"><path d="M1.9,8.0 C1.9,4.2 4.7,1.3 8.2,1.3 C11.8,1.3 14.5,4.0 14.5,7.6 C14.5,10.0 13.4,11.9 11.7,13.7 L1.9,24.05 M0,24.05 L16.3,24.05"/></g>
<g transform="translate(693.05,362.40)"><path d="M1.8,7.0 C2.5,3.5 5.0,1.25 8.2,1.25 C11.6,1.25 13.9,3.6 13.9,6.9 C13.9,10.6 11.4,13.2 8.0,13.2 L5.6,13.2 L8.3,13.2 C12.0,13.2 14.65,15.7 14.65,19.1 C14.65,22.3 11.9,24.4 8.2,24.4 C4.9,24.4 2.2,22.6 1.5,19.6"/></g>
<g transform="translate(713.25,362.40)"><circle stroke="none" fill="#218a8b" cx="2.5" cy="23.1" r="2.6"/></g>
<g transform="translate(721.75,362.40)"><path d="M15.6,1.65 L3.3,1.65 L2.3,14.4" stroke-linejoin="miter"/><path d="M2.0,13.8 C3.7,11.9 6.0,10.9 8.6,10.9 C12.5,10.9 15.0,14.0 15.0,17.9 C15.0,21.8 12.2,24.4 8.4,24.4 C5.3,24.4 2.6,22.8 1.6,20.0"/></g>
<g transform="translate(686.95,403.20)"><path d="M1.9,8.0 C1.9,4.2 4.7,1.3 8.2,1.3 C11.8,1.3 14.5,4.0 14.5,7.6 C14.5,10.0 13.4,11.9 11.7,13.7 L1.9,24.05 M0,24.05 L16.3,24.05"/></g>
<g transform="translate(705.75,403.20)"><path stroke="none" fill="#218a8b" fill-rule="evenodd" d="M11.4,0 L15.9,0 L15.9,16.9 L18.3,16.9 L18.3,20.2 L15.9,20.2 L15.9,25.7 L12.5,25.7 L12.5,20.2 L0,20.2 L0,17.0 Z M12.5,4.9 L12.5,16.9 L4.4,16.9 Z"/></g>
<g transform="translate(671.95,444.00)"><path d="M1.9,8.0 C1.9,4.2 4.7,1.3 8.2,1.3 C11.8,1.3 14.5,4.0 14.5,7.6 C14.5,10.0 13.4,11.9 11.7,13.7 L1.9,24.05 M0,24.05 L16.3,24.05"/></g>
<g transform="translate(690.75,444.00)"><path stroke="none" fill="#218a8b" fill-rule="evenodd" d="M11.4,0 L15.9,0 L15.9,16.9 L18.3,16.9 L18.3,20.2 L15.9,20.2 L15.9,25.7 L12.5,25.7 L12.5,20.2 L0,20.2 L0,17.0 Z M12.5,4.9 L12.5,16.9 L4.4,16.9 Z"/></g>
<g transform="translate(713.95,444.00)"><circle stroke="none" fill="#218a8b" cx="2.5" cy="23.1" r="2.6"/></g>
<g transform="translate(722.45,444.00)"><path d="M15.6,1.65 L3.3,1.65 L2.3,14.4" stroke-linejoin="miter"/><path d="M2.0,13.8 C3.7,11.9 6.0,10.9 8.6,10.9 C12.5,10.9 15.0,14.0 15.0,17.9 C15.0,21.8 12.2,24.4 8.4,24.4 C5.3,24.4 2.6,22.8 1.6,20.0"/></g>
<g transform="translate(687.35,484.80)"><path d="M1.9,8.0 C1.9,4.2 4.7,1.3 8.2,1.3 C11.8,1.3 14.5,4.0 14.5,7.6 C14.5,10.0 13.4,11.9 11.7,13.7 L1.9,24.05 M0,24.05 L16.3,24.05"/></g>
<g transform="translate(707.05,484.80)"><path d="M15.6,1.65 L3.3,1.65 L2.3,14.4" stroke-linejoin="miter"/><path d="M2.0,13.8 C3.7,11.9 6.0,10.9 8.6,10.9 C12.5,10.9 15.0,14.0 15.0,17.9 C15.0,21.8 12.2,24.4 8.4,24.4 C5.3,24.4 2.6,22.8 1.6,20.0"/></g>
<g transform="translate(673.10,525.60)"><path d="M1.9,8.0 C1.9,4.2 4.7,1.3 8.2,1.3 C11.8,1.3 14.5,4.0 14.5,7.6 C14.5,10.0 13.4,11.9 11.7,13.7 L1.9,24.05 M0,24.05 L16.3,24.05"/></g>
<g transform="translate(692.80,525.60)"><path d="M15.6,1.65 L3.3,1.65 L2.3,14.4" stroke-linejoin="miter"/><path d="M2.0,13.8 C3.7,11.9 6.0,10.9 8.6,10.9 C12.5,10.9 15.0,14.0 15.0,17.9 C15.0,21.8 12.2,24.4 8.4,24.4 C5.3,24.4 2.6,22.8 1.6,20.0"/></g>
<g transform="translate(712.80,525.60)"><circle stroke="none" fill="#218a8b" cx="2.5" cy="23.1" r="2.6"/></g>
<g transform="translate(721.30,525.60)"><path d="M15.6,1.65 L3.3,1.65 L2.3,14.4" stroke-linejoin="miter"/><path d="M2.0,13.8 C3.7,11.9 6.0,10.9 8.6,10.9 C12.5,10.9 15.0,14.0 15.0,17.9 C15.0,21.8 12.2,24.4 8.4,24.4 C5.3,24.4 2.6,22.8 1.6,20.0"/></g>
<g transform="translate(687.90,566.40)"><path d="M1.9,8.0 C1.9,4.2 4.7,1.3 8.2,1.3 C11.8,1.3 14.5,4.0 14.5,7.6 C14.5,10.0 13.4,11.9 11.7,13.7 L1.9,24.05 M0,24.05 L16.3,24.05"/></g>
<g transform="translate(706.90,566.40)"><path d="M11.0,0.3 L2.0,15.2"/><ellipse cx="8.1" cy="17.6" rx="6.45" ry="6.75"/></g>
<g transform="translate(673.10,607.20)"><path d="M1.9,8.0 C1.9,4.2 4.7,1.3 8.2,1.3 C11.8,1.3 14.5,4.0 14.5,7.6 C14.5,10.0 13.4,11.9 11.7,13.7 L1.9,24.05 M0,24.05 L16.3,24.05"/></g>
<g transform="translate(692.10,607.20)"><path d="M11.0,0.3 L2.0,15.2"/><ellipse cx="8.1" cy="17.6" rx="6.45" ry="6.75"/></g>
<g transform="translate(712.80,607.20)"><circle stroke="none" fill="#218a8b" cx="2.5" cy="23.1" r="2.6"/></g>
<g transform="translate(721.30,607.20)"><path d="M15.6,1.65 L3.3,1.65 L2.3,14.4" stroke-linejoin="miter"/><path d="M2.0,13.8 C3.7,11.9 6.0,10.9 8.6,10.9 C12.5,10.9 15.0,14.0 15.0,17.9 C15.0,21.8 12.2,24.4 8.4,24.4 C5.3,24.4 2.6,22.8 1.6,20.0"/></g>
<g transform="translate(687.20,648.00)"><path d="M1.9,8.0 C1.9,4.2 4.7,1.3 8.2,1.3 C11.8,1.3 14.5,4.0 14.5,7.6 C14.5,10.0 13.4,11.9 11.7,13.7 L1.9,24.05 M0,24.05 L16.3,24.05"/></g>
<g transform="translate(707.00,648.00)"><path d="M0,1.65 L16.8,1.65 M15.1,1.65 L3.2,25.0"/></g>
<g transform="translate(674.90,688.80)"><path d="M1.9,8.0 C1.9,4.2 4.7,1.3 8.2,1.3 C11.8,1.3 14.5,4.0 14.5,7.6 C14.5,10.0 13.4,11.9 11.7,13.7 L1.9,24.05 M0,24.05 L16.3,24.05"/></g>
<g transform="translate(694.70,688.80)"><path d="M0,1.65 L16.8,1.65 M15.1,1.65 L3.2,25.0"/></g>
<g transform="translate(711.00,688.80)"><circle stroke="none" fill="#218a8b" cx="2.5" cy="23.1" r="2.6"/></g>
<g transform="translate(719.50,688.80)"><path d="M15.6,1.65 L3.3,1.65 L2.3,14.4" stroke-linejoin="miter"/><path d="M2.0,13.8 C3.7,11.9 6.0,10.9 8.6,10.9 C12.5,10.9 15.0,14.0 15.0,17.9 C15.0,21.8 12.2,24.4 8.4,24.4 C5.3,24.4 2.6,22.8 1.6,20.0"/></g>
<g transform="translate(687.10,729.60)"><path d="M1.9,8.0 C1.9,4.2 4.7,1.3 8.2,1.3 C11.8,1.3 14.5,4.0 14.5,7.6 C14.5,10.0 13.4,11.9 11.7,13.7 L1.9,24.05 M0,24.05 L16.3,24.05"/></g>
<g transform="translate(706.60,729.60)"><ellipse cx="8.6" cy="5.95" rx="5.6" ry="4.65"/><ellipse cx="8.65" cy="18.2" rx="7.0" ry="6.2"/></g>
<g transform="translate(672.75,770.40)"><path d="M1.9,8.0 C1.9,4.2 4.7,1.3 8.2,1.3 C11.8,1.3 14.5,4.0 14.5,7.6 C14.5,10.0 13.4,11.9 11.7,13.7 L1.9,24.05 M0,24.05 L16.3,24.05"/></g>
<g transform="translate(692.25,770.40)"><ellipse cx="8.6" cy="5.95" rx="5.6" ry="4.65"/><ellipse cx="8.65" cy="18.2" rx="7.0" ry="6.2"/></g>
<g transform="translate(713.15,770.40)"><circle stroke="none" fill="#218a8b" cx="2.5" cy="23.1" r="2.6"/></g>
<g transform="translate(721.65,770.40)"><path d="M15.6,1.65 L3.3,1.65 L2.3,14.4" stroke-linejoin="miter"/><path d="M2.0,13.8 C3.7,11.9 6.0,10.9 8.6,10.9 C12.5,10.9 15.0,14.0 15.0,17.9 C15.0,21.8 12.2,24.4 8.4,24.4 C5.3,24.4 2.6,22.8 1.6,20.0"/></g>
<g transform="translate(687.30,811.20)"><path d="M1.9,8.0 C1.9,4.2 4.7,1.3 8.2,1.3 C11.8,1.3 14.5,4.0 14.5,7.6 C14.5,10.0 13.4,11.9 11.7,13.7 L1.9,24.05 M0,24.05 L16.3,24.05"/></g>
<g transform="translate(706.70,811.20)"><ellipse cx="8.5" cy="7.5" rx="6.85" ry="6.25"/><path d="M14.9,10.4 L6.3,25.4"/></g></g></svg>
<div id="txt"><div class="tx" style="left:29.6px;top:42.6px;font-size:56px;line-height:56px;font-weight:bold;transform:scaleX(0.893)">SIZE CHART</div>
<div class="tx" style="left:92px;top:97.3px;font-size:25.5px;line-height:25.5px;transform:scaleX(0.93)">NEW BALANCE</div>
<div class="tx tc" style="left:49.5px;top:169px;font-size:44px;line-height:44px;font-weight:bold;transform:scaleX(0.893)">US</div>
<div class="tx tc" style="left:239.5px;top:169px;font-size:44px;line-height:44px;font-weight:bold;transform:scaleX(0.938)">UK</div>
<div class="tx tc" style="left:448.7px;top:169px;font-size:44px;line-height:44px;font-weight:bold;transform:scaleX(0.874)">EUR</div>
<div class="tx tc" style="left:635.6px;top:169px;font-size:44px;line-height:44px;font-weight:bold;transform:scaleX(1.0)">CM</div>
<div class="tx tc" style="left:50.4px;top:234.4px;font-size:38px;line-height:38px;transform:scaleX(0.95)">4</div>
<div class="tx tc" style="left:50.4px;top:275.2px;font-size:38px;line-height:38px;transform:scaleX(0.95)">4.5</div>
<div class="tx tc" style="left:50.4px;top:316.0px;font-size:38px;line-height:38px;transform:scaleX(0.95)">5</div>
<div class="tx tc" style="left:50.4px;top:356.8px;font-size:38px;line-height:38px;transform:scaleX(0.95)">5.5</div>
<div class="tx tc" style="left:50.4px;top:397.6px;font-size:38px;line-height:38px;transform:scaleX(0.95)">6</div>
<div class="tx tc" style="left:50.4px;top:438.4px;font-size:38px;line-height:38px;transform:scaleX(0.95)">6.5</div>
<div class="tx tc" style="left:50.4px;top:479.2px;font-size:38px;line-height:38px;transform:scaleX(0.95)">7</div>
<div class="tx tc" style="left:50.4px;top:520.0px;font-size:38px;line-height:38px;transform:scaleX(0.95)">7.5</div>
<div class="tx tc" style="left:50.4px;top:560.8px;font-size:38px;line-height:38px;transform:scaleX(0.95)">8</div>
<div class="tx tc" style="left:50.4px;top:601.6px;font-size:38px;line-height:38px;transform:scaleX(0.95)">8.5</div>
<div class="tx tc" style="left:50.4px;top:642.4px;font-size:38px;line-height:38px;transform:scaleX(0.95)">9</div>
<div class="tx tc" style="left:50.4px;top:683.2px;font-size:38px;line-height:38px;transform:scaleX(0.95)">9.5</div>
<div class="tx tc" style="left:50.4px;top:724.0px;font-size:38px;line-height:38px;transform:scaleX(0.95)">10</div>
<div class="tx tc" style="left:50.4px;top:764.8px;font-size:38px;line-height:38px;transform:scaleX(0.95)">10.5</div>
<div class="tx tc" style="left:50.4px;top:805.6px;font-size:38px;line-height:38px;transform:scaleX(0.95)">11</div>
<div class="tx tc" style="left:233.8px;top:234.6px;font-size:38px;line-height:38px;transform:scaleX(0.95)">3.5</div>
<div class="tx tc" style="left:233.8px;top:275.4px;font-size:38px;line-height:38px;transform:scaleX(0.95)">4</div>
<div class="tx tc" style="left:233.8px;top:316.2px;font-size:38px;line-height:38px;transform:scaleX(0.95)">4.5</div>
<div class="tx tc" style="left:233.8px;top:357.0px;font-size:38px;line-height:38px;transform:scaleX(0.95)">5</div>
<div class="tx tc" style="left:233.8px;top:397.8px;font-size:38px;line-height:38px;transform:scaleX(0.95)">5.5</div>
<div class="tx tc" style="left:233.8px;top:438.6px;font-size:38px;line-height:38px;transform:scaleX(0.95)">6</div>
<div class="tx tc" style="left:233.8px;top:479.4px;font-size:38px;line-height:38px;transform:scaleX(0.95)">6.5</div>
<div class="tx tc" style="left:233.8px;top:520.2px;font-size:38px;line-height:38px;transform:scaleX(0.95)">7</div>
<div class="tx tc" style="left:233.8px;top:561.0px;font-size:38px;line-height:38px;transform:scaleX(0.95)">7.5</div>
<div class="tx tc" style="left:233.8px;top:601.8px;font-size:38px;line-height:38px;transform:scaleX(0.95)">8</div>
<div class="tx tc" style="left:233.8px;top:642.6px;font-size:38px;line-height:38px;transform:scaleX(0.95)">8.5</div>
<div class="tx tc" style="left:233.8px;top:683.4px;font-size:38px;line-height:38px;transform:scaleX(0.95)">9</div>
<div class="tx tc" style="left:233.8px;top:724.2px;font-size:38px;line-height:38px;transform:scaleX(0.95)">9.5</div>
<div class="tx tc" style="left:233.8px;top:765.0px;font-size:38px;line-height:38px;transform:scaleX(0.95)">10</div>
<div class="tx tc" style="left:233.8px;top:805.8px;font-size:38px;line-height:38px;transform:scaleX(0.95)">10.5</div>
<div class="tx tc" style="left:447.8px;top:234.7px;font-size:38px;line-height:38px;transform:scaleX(0.95)">35</div>
<div class="tx tc" style="left:447.8px;top:275.5px;font-size:38px;line-height:38px;transform:scaleX(0.95)">37</div>
<div class="tx tc" style="left:447.8px;top:316.3px;font-size:38px;line-height:38px;transform:scaleX(0.95)">37.5</div>
<div class="tx tc" style="left:447.8px;top:357.1px;font-size:38px;line-height:38px;transform:scaleX(0.95)">38</div>
<div class="tx tc" style="left:447.8px;top:397.9px;font-size:38px;line-height:38px;transform:scaleX(0.95)">38.5</div>
<div class="tx tc" style="left:447.8px;top:438.7px;font-size:38px;line-height:38px;transform:scaleX(0.95)">39.5</div>
<div class="tx tc" style="left:447.8px;top:479.5px;font-size:38px;line-height:38px;transform:scaleX(0.95)">40</div>
<div class="tx tc" style="left:447.8px;top:520.3px;font-size:38px;line-height:38px;transform:scaleX(0.95)">40.5</div>
<div class="tx tc" style="left:447.8px;top:561.1px;font-size:38px;line-height:38px;transform:scaleX(0.95)">41.5</div>
<div class="tx tc" style="left:447.8px;top:601.9px;font-size:38px;line-height:38px;transform:scaleX(0.95)">42</div>
<div class="tx tc" style="left:447.8px;top:642.7px;font-size:38px;line-height:38px;transform:scaleX(0.95)">42.5</div>
<div class="tx tc" style="left:447.8px;top:683.5px;font-size:38px;line-height:38px;transform:scaleX(0.95)">43</div>
<div class="tx tc" style="left:447.8px;top:724.3px;font-size:38px;line-height:38px;transform:scaleX(0.95)">44</div>
<div class="tx tc" style="left:447.8px;top:765.1px;font-size:38px;line-height:38px;transform:scaleX(0.95)">44.5</div>
<div class="tx tc" style="left:447.8px;top:805.9px;font-size:38px;line-height:38px;transform:scaleX(0.95)">45</div>
<div class="tx tc" style="left:635.5px;top:233.5px;font-size:38px;line-height:38px;transform:scaleX(0.95)">22</div>
<div class="tx tc" style="left:635.5px;top:274.3px;font-size:38px;line-height:38px;transform:scaleX(0.95)">22.5</div>
<div class="tx tc" style="left:635.5px;top:315.1px;font-size:38px;line-height:38px;transform:scaleX(0.95)">23</div>
<div class="tx tc" style="left:635.5px;top:355.9px;font-size:38px;line-height:38px;transform:scaleX(0.95)">23.5</div>
<div class="tx tc" style="left:635.5px;top:396.7px;font-size:38px;line-height:38px;transform:scaleX(0.95)">24</div>
<div class="tx tc" style="left:635.5px;top:437.5px;font-size:38px;line-height:38px;transform:scaleX(0.95)">24.5</div>
<div class="tx tc" style="left:635.5px;top:478.3px;font-size:38px;line-height:38px;transform:scaleX(0.95)">25</div>
<div class="tx tc" style="left:635.5px;top:519.1px;font-size:38px;line-height:38px;transform:scaleX(0.95)">25.5</div>
<div class="tx tc" style="left:635.5px;top:559.9px;font-size:38px;line-height:38px;transform:scaleX(0.95)">26</div>
<div class="tx tc" style="left:635.5px;top:600.7px;font-size:38px;line-height:38px;transform:scaleX(0.95)">26.5</div>
<div class="tx tc" style="left:635.5px;top:641.5px;font-size:38px;line-height:38px;transform:scaleX(0.95)">27</div>
<div class="tx tc" style="left:635.5px;top:682.3px;font-size:38px;line-height:38px;transform:scaleX(0.95)">27.5</div>
<div class="tx tc" style="left:635.5px;top:723.1px;font-size:38px;line-height:38px;transform:scaleX(0.95)">28</div>
<div class="tx tc" style="left:635.5px;top:763.9px;font-size:38px;line-height:38px;transform:scaleX(0.95)">28.5</div>
<div class="tx tc" style="left:635.5px;top:804.7px;font-size:38px;line-height:38px;transform:scaleX(0.95)">29</div></div>
</body></html>
